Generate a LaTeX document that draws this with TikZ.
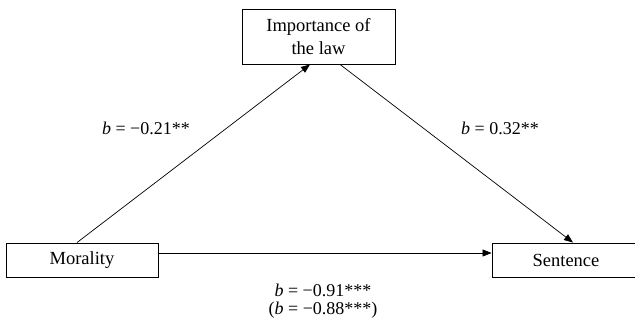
\documentclass[tikz,border=0pt]{standalone}
\usepackage{fontspec}
\setmainfont{Liberation Serif}
\usetikzlibrary{arrows.meta}
\begin{document}
\begin{tikzpicture}[x=1pt,y=1pt,
  box/.style={draw, line width=0.9pt, inner sep=0pt, align=center, font=\fontsize{18.5}{23}\selectfont},
  conn/.style={line width=0.7pt, -{Triangle[length=9pt,width=7pt]}},
  lab/.style={font=\fontsize{18}{18}\selectfont, inner sep=0pt, align=center}]
\useasboundingbox (0,0) rectangle (635,-323);
\node[box, minimum width=153pt, minimum height=55pt] (law) at (318.5,-36.5) {Importance of\\the law};
\node[box, minimum width=152pt, minimum height=34pt] (mor) at (82,-260) {Morality};
\node[box, minimum width=150pt, minimum height=34pt] (sen) at (567,-260) {};
\node[lab, font=\fontsize{18.5}{23}\selectfont] (sentxt) at (566,-260) {Sentence};
\draw[conn] ([xshift=-5pt]mor.north) -- ([xshift=-8.5pt]law.south);
\draw[conn] ([xshift=21.5pt]law.south) -- ([xshift=6pt]sen.north);
\draw[conn] ([yshift=7pt]mor.east) -- ([yshift=7pt]sen.west);
\node[lab] (l1) at (146,-128) {\textit{b} = −0.21**};
\node[lab] (l2) at (500,-128) {\textit{b} = 0.32**};
\node[lab] (l3) at (323,-290) {\textit{b} = −0.91***};
\node[lab] (l4) at (323,-310) {(\textit{b} = −0.88***)};
\end{tikzpicture}
\end{document}
